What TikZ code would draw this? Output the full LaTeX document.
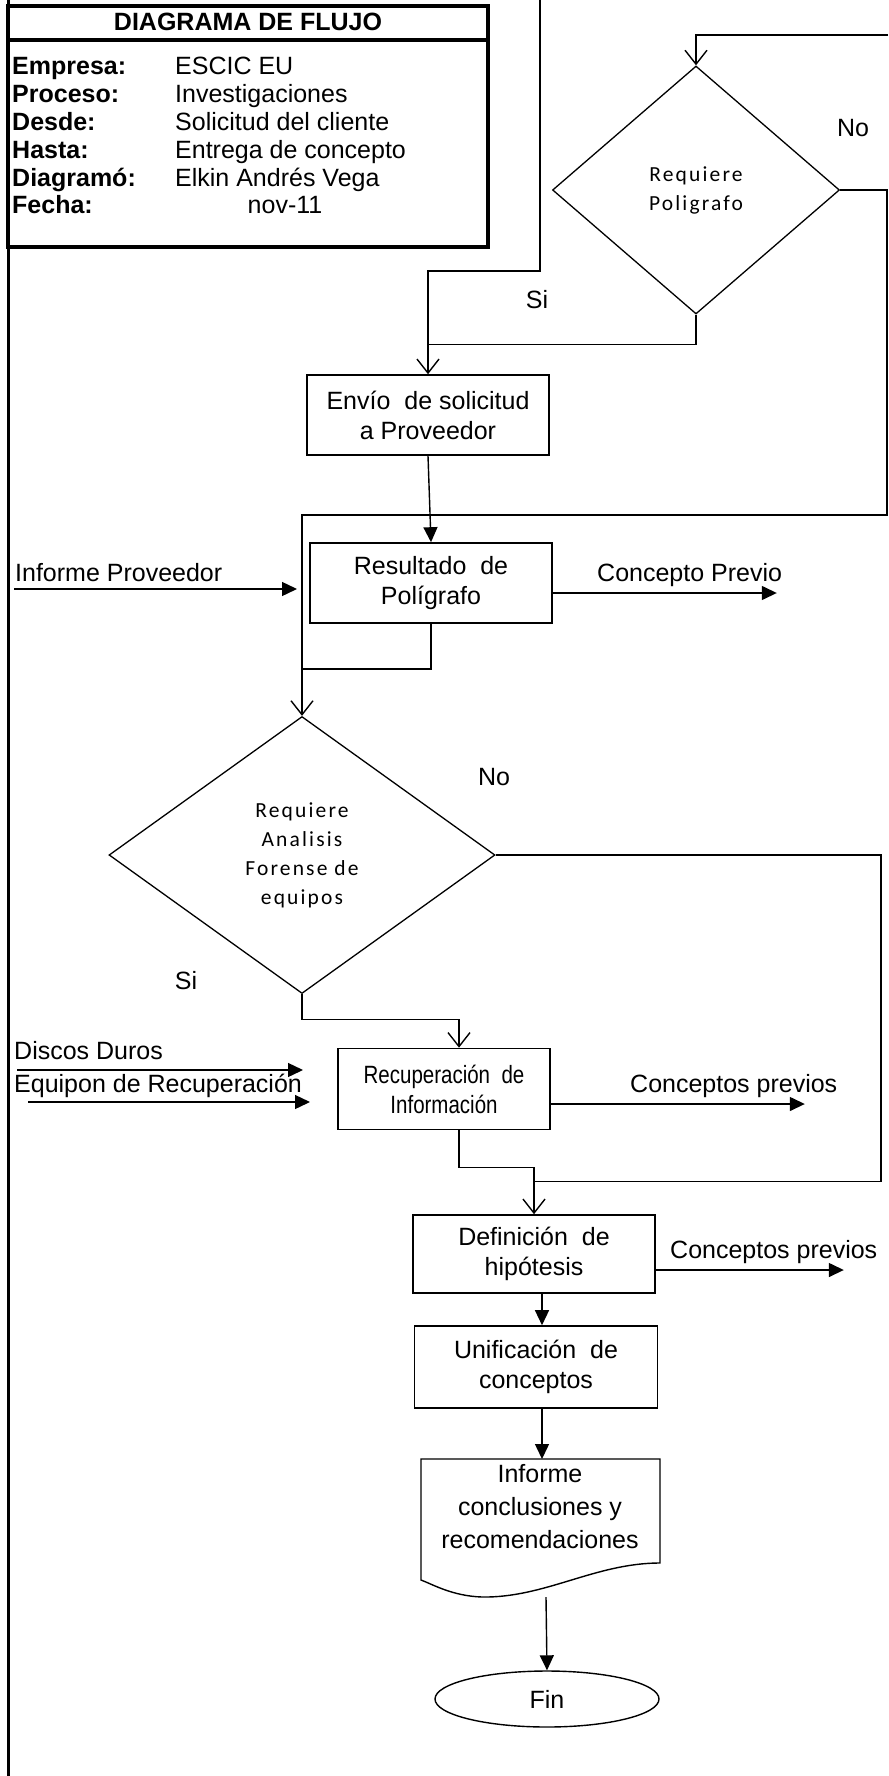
\documentclass[tikz,border=0pt]{standalone}
\usepackage{fontspec}
\setmainfont{Liberation Sans}
\newfontfamily\calfont{Carlito}[LetterSpace=10]
\newfontfamily\narrowfont{Liberation Sans}[FakeStretch=0.82]
\usetikzlibrary{shapes.geometric,arrows.meta,calc}
\tikzset{
  proc/.style={draw,line width=1.6pt,minimum width=242pt,minimum height=80pt,align=center,inner sep=0pt,font=\fontsize{25}{30}\selectfont},
  dec/.style={draw,diamond,line width=1.3pt,align=center,inner sep=0pt,font=\calfont\fontsize{21.5}{29}\selectfont},
  lbl/.style={inner sep=0pt,text height=18pt,text depth=5pt,font=\fontsize{25}{30}\selectfont},
  arr/.style={-{Triangle[length=15pt,width=14pt]},line width=1.4pt},
  opn/.style={-{Straight Barb[length=14pt,width=22pt]},line width=1.4pt},
  ln/.style={line width=1.4pt}
}
\begin{document}
\begin{tikzpicture}[x=1pt,y=-1pt]
\useasboundingbox (0,0) rectangle (888,1776);
% header table
\draw[line width=3pt] (8,0) -- (8,1776);
\draw[line width=3.5pt] (8,6) rectangle (488,247);
\draw[line width=3.5pt] (8,40) -- (488,40);
\node[font=\bfseries\fontsize{25}{30}\selectfont] (tit) at (248,22) {DIAGRAMA DE FLUJO};
\foreach \k/\v [count=\i] in {Empresa:/ESCIC EU,Proceso:/Investigaciones,Desde:/Solicitud del cliente,Hasta:/Entrega de concepto,Diagramó:/Elkin Andrés Vega}
  {\node[lbl,anchor=west,font=\bfseries\fontsize{25}{30}\selectfont] (k\i) at (12,{40.7+27.8*\i}) {\k};
   \node[lbl,anchor=west] (v\i) at (175,{40.7+27.8*\i}) {\v};}
\node[lbl,anchor=west,font=\bfseries\fontsize{25}{30}\selectfont] (k6) at (12,207.5) {Fecha:};
\node[lbl] (v6) at (285,207.5) {nov-11};
% process nodes
\node[dec,minimum width=287pt,minimum height=248pt] (dec1) at (696,190) {Requiere\\Poligrafo};
\node[proc] (env) at (428,415) {Envío\ \ de solicitud\\a Proveedor};
\node[proc] (res) at (431,583) {Resultado\ \ de\\Polígrafo};
\node[dec,minimum width=386pt,minimum height=277pt] (dec2) at (302,855) {Requiere\\Analisis\\Forense de\\equipos};
\node[proc,minimum width=212pt,minimum height=81pt,font=\narrowfont\fontsize{25}{30}\selectfont] (rec) at (444,1089) {Recuperación\ \ de\\Información};
\node[proc,minimum height=78pt] (def) at (534,1254) {Definición\ \ de\\hipótesis};
\node[proc,minimum height=82pt,minimum width=243pt] (uni) at (536,1367) {Unificación\ \ de\\conceptos};
\draw[line width=1.4pt] (421,1459) -- (660,1459) -- (660,1563) .. controls (595,1563) and (545,1598) .. (482,1597) .. controls (452,1596) and (432,1584) .. (421,1580) -- cycle;
\node[align=center,inner sep=0pt,font=\fontsize{25}{33}\selectfont] (inf) at (540,1507) {Informe\\conclusiones y\\recomendaciones};
\node[draw,ellipse,line width=1.4pt,minimum width=224pt,minimum height=56pt,inner sep=0pt,font=\fontsize{25}{30}\selectfont] (fin) at (547,1699) {Fin};
% labels
\node[lbl] (no1) at (853,130) {No};
\node[lbl] (si1) at (537,302) {Si};
\node[lbl] (no2) at (494,779) {No};
\node[lbl] (si2) at (186,983) {Si};
\node[lbl,anchor=west] (tInf) at (15,575) {Informe Proveedor};
\node[lbl,anchor=west] (tCon1) at (597,575) {Concepto Previo};
\node[lbl,anchor=west] (tDis) at (14,1053) {Discos Duros};
\node[lbl,anchor=west] (tEqu) at (14,1086) {Equipon de Recuperación};
\node[lbl,anchor=west] (tCon2) at (630,1086) {Conceptos previos};
\node[lbl,anchor=west] (tCon3) at (670,1252) {Conceptos previos};
% free ends
\coordinate (inTop) at (540,0);
\coordinate (fbR) at (888,35);
\coordinate (aInf1) at (14,589);
\coordinate (aInf2) at (297,589);
\coordinate (aDis1) at (17,1070);
\coordinate (aDis2) at (303,1070);
\coordinate (aEqu1) at (28,1102);
\coordinate (aEqu2) at (310,1102);
\coordinate (docT) at (542,1459);
\coordinate (docB) at (546,1597);
% connectors
\draw[opn] (inTop) |- ($(env.north)+(0,-103)$) -- (env.north);
\draw[opn] (fbR) -| (dec1.north);
\draw[ln] (dec1.south) |- ($(env.north)+(0,-30)$);
\draw[opn] (dec1.east) -- ++(47,0) |- ($(dec2.north)+(0,-201)$) -- (dec2.north);
\draw[arr] (env.south) -- (res.north);
\draw[arr] (aInf1) -- (aInf2);
\draw[arr] ([yshift=-10pt]res.east) -- ++(224,0);
\draw[ln] (res.south) |- ($(dec2.north)+(0,-47)$);
\draw[ln] (dec2.east) -| ($(def.north)+(347,-33)$) -- ($(def.north)+(0,-33)$);
\draw[opn] (dec2.south) |- ($(rec.north)+(15,-28)$) -- ([xshift=15pt]rec.north);
\draw[arr] (aDis1) -- (aDis2);
\draw[arr] (aEqu1) -- (aEqu2);
\draw[arr] ([yshift=-15pt]rec.east) -- ++(254,0);
\draw[opn] ([xshift=15pt]rec.south) |- ($(def.north)+(0,-47)$) -- (def.north);
\draw[arr] ([yshift=-16pt]def.east) -- ++(188,0);
\draw[arr] ([xshift=8pt]def.south) -- ([xshift=6pt]uni.north);
\draw[arr] ([xshift=6pt]uni.south) -- (docT);
\draw[arr] (docB) -- (fin.north);
\end{tikzpicture}
\end{document}
